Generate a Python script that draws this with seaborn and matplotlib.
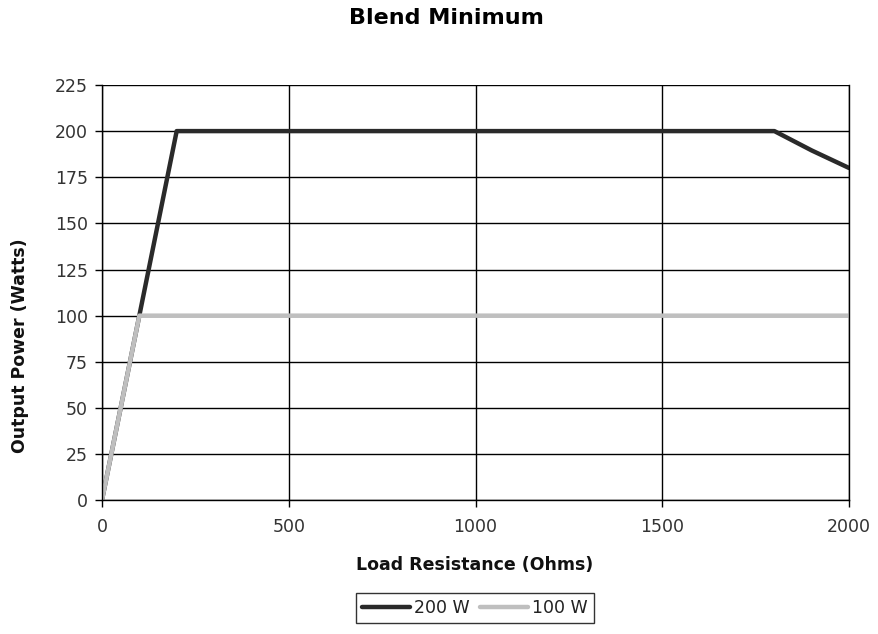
import numpy as np
import pandas as pd
import matplotlib
matplotlib.use("Agg")
import matplotlib.pyplot as plt
from matplotlib.lines import Line2D
import seaborn as sns

resistencia_200 = [0, 100, 200, 400, 800, 1200, 1600, 1800, 1900, 2000]
potencia_200 = [0, 100, 200, 200, 200, 200, 200, 200, 189.5, 180]
resistencia_100 = [0, 100, 500, 1000, 1500, 2000]
potencia_100 = [0, 100, 100, 100, 100, 100]
series = ['200 W', '100 W']
colores = {'200 W': '#2a2a2a', '100 W': '#bfbfbf'}

df = pd.concat([
    pd.DataFrame({'R': resistencia_200, 'P': potencia_200, 'Serie': '200 W'}),
    pd.DataFrame({'R': resistencia_100, 'P': potencia_100, 'Serie': '100 W'}),
], ignore_index=True)

sns.set_theme(style="white")
plt.rcParams['font.family'] = ['DejaVu Sans']

fig = plt.figure(figsize=(8.79, 6.34), dpi=100)
ax = fig.add_axes([0.116, 0.211, 0.85, 0.655])
sns.lineplot(data=df, x='R', y='P', hue='Serie', palette=colores,
             linewidth=3.2, ax=ax, legend=False, sort=False)

ax.set_xlim(0, 2000)
ax.set_ylim(0, 225)
ax.set_xticks(np.arange(0, 2001, 500))
ax.set_yticks(np.arange(0, 226, 25))
ax.grid(True, color='black', linewidth=1)
for s in ax.spines.values():
    s.set_color('black')
    s.set_linewidth(1)
ax.spines['top'].set_visible(False)
ax.tick_params(axis='both', direction='out', length=5, color='black', width=1,
               labelsize=12.5, labelcolor='#333333', left=True, bottom=True)
ax.tick_params(axis='x', pad=8)
ax.tick_params(axis='y', pad=5)
ax.set_axisbelow(True)
ax.set_xlabel("")
ax.set_ylabel("")

fig.text(0.508, 0.972, "Blend Minimum", fontsize=16, fontweight='heavy', ha='center', va='center', color='black')
fig.text(0.540, 0.109, "Load Resistance (Ohms)", fontsize=12.5, fontweight='bold', ha='center', va='center', color='#111111')
fig.text(0.023, 0.455, "Output Power (Watts)", fontsize=12.5, fontweight='bold', ha='center', va='center',
         rotation=90, color='#111111')

handles = [Line2D([], [], color=colores[s], lw=3.2) for s in series]
leg = fig.legend(handles, series, loc='center', bbox_to_anchor=(0.540, 0.041), ncol=2,
                 frameon=True, fancybox=False, edgecolor='black', fontsize=12.5,
                 handlelength=2.8, handletextpad=0.2, columnspacing=0.6, borderpad=0.35)
leg.get_frame().set_linewidth(1)
for t in leg.get_texts():
    t.set_color('#222222')

plt.savefig("out.png", dpi=100)
plt.close()
